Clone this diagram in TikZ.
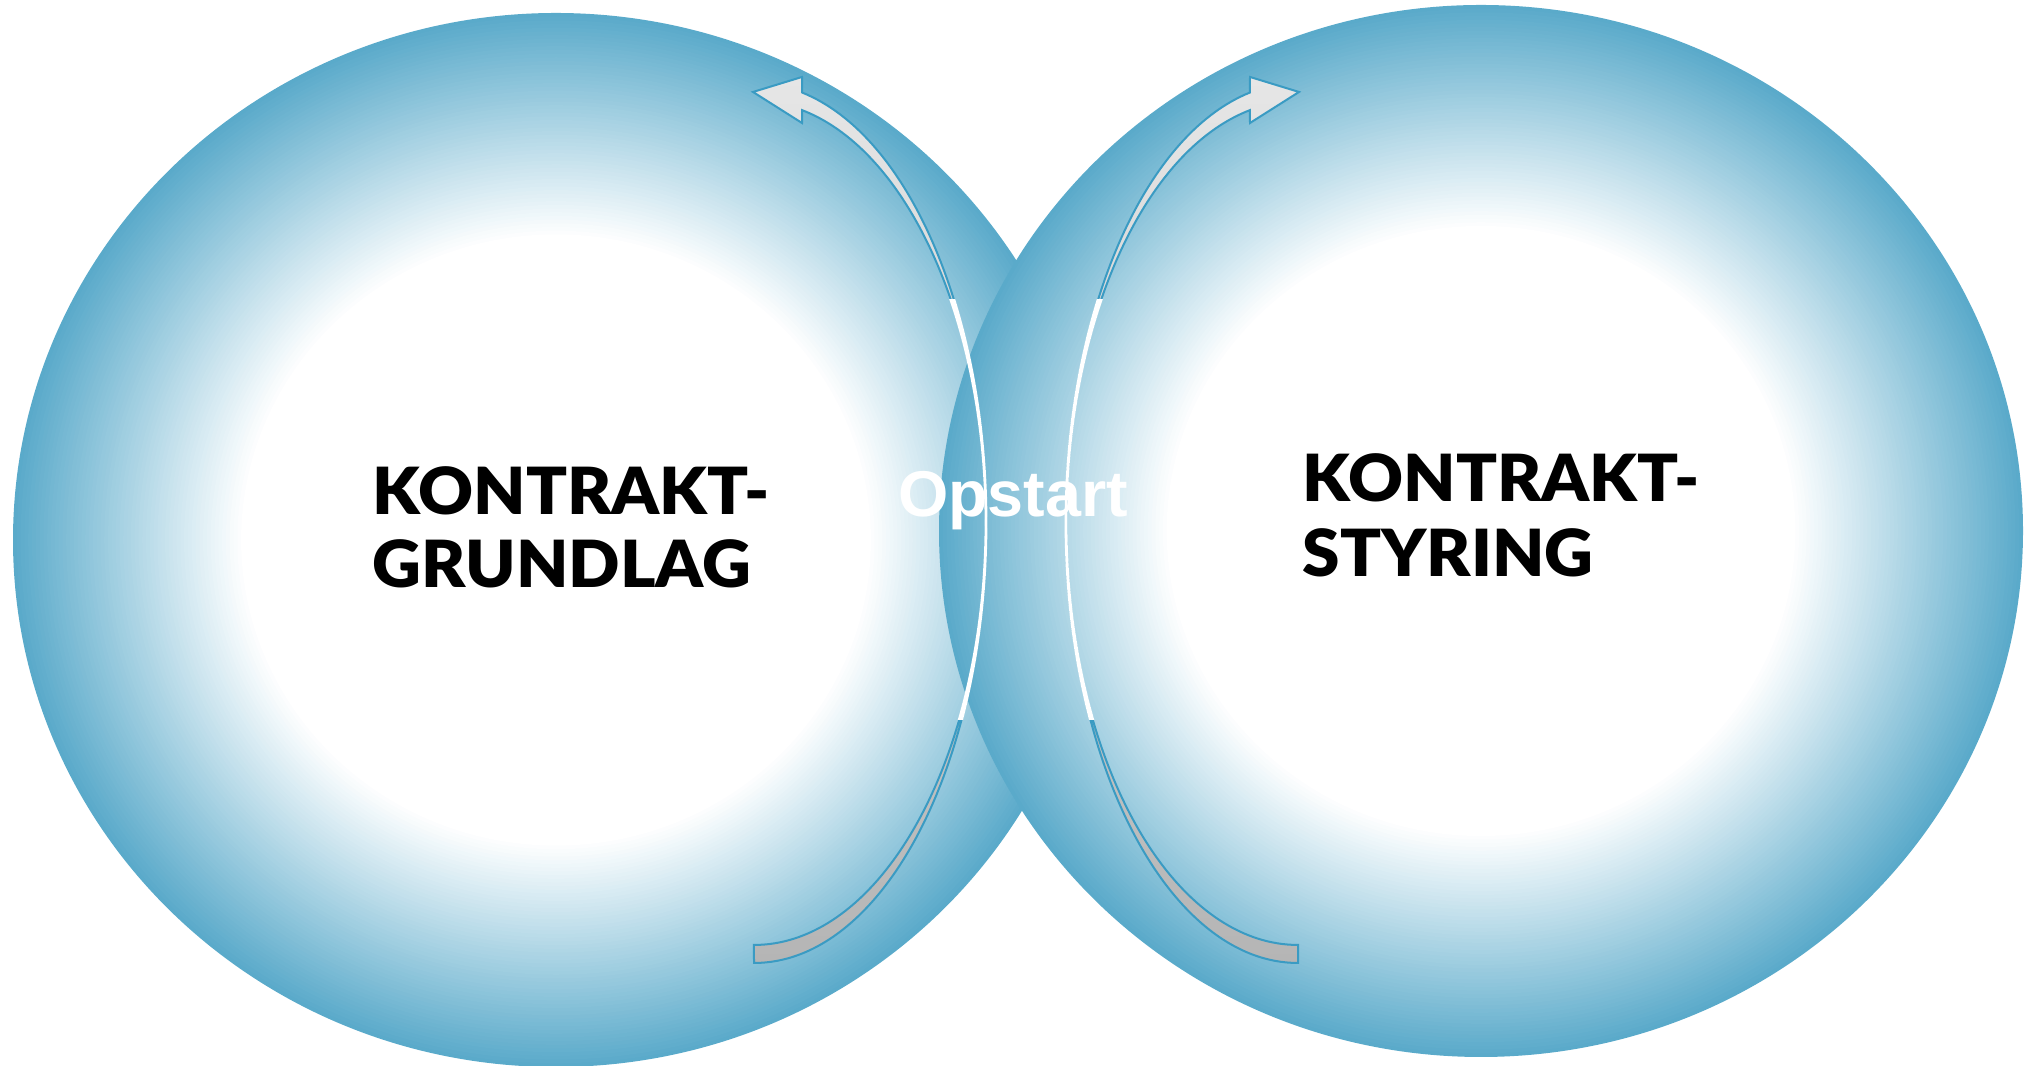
\documentclass[tikz,border=0pt]{standalone}
\usepackage{fontspec}
\setmainfont{Liberation Sans}
\newfontfamily\heavyfont{Lato Black}
\usetikzlibrary{shapes.geometric}

\definecolor{ringblue}{RGB}{90,170,202}
\definecolor{rimblue}{RGB}{58,155,195}
\definecolor{headgray}{RGB}{230,230,230}
\definecolor{tailgray}{RGB}{181,181,181}

\newcommand{\bendarrow}{(7.54,1.03) arc[start angle=-90,end angle=78,x radius=2.32,y radius=4.40]
  -- (8.02,9.89) -- (7.53,9.74) -- (8.02,9.43) -- (8.022,9.558)
  arc[start angle=78,end angle=-90,x radius=2.32,y radius=4.22] -- cycle}

\begin{document}
\begin{tikzpicture}[
  bigword/.style={font=\heavyfont\fontsize{18.5pt}{20pt}\selectfont,inner sep=0pt,anchor=base west},
  midword/.style={font=\bfseries\fontsize{18.4pt}{20pt}\selectfont,text=white,inner sep=0pt,anchor=base}
]
\useasboundingbox (0,0) rectangle (20.26,10.66);

\coordinate (grund) at (5.56,5.26);
\coordinate (styr) at (14.81,5.35);
% rings: white centre fading out to blue
\foreach \ctr/\rx/\ry in {grund/5.43/5.27,styr/5.42/5.26}{
\foreach \i in {0,...,60}{
  \pgfmathsetmacro\f{1-0.42*\i/60}
  \pgfmathsetmacro\c{100-100*\i/60}
  \fill[ringblue!\c!white] (\ctr) ellipse[x radius={\rx*\f},y radius={\ry*\f}];
}
}

% the two bent arrows, the right one mirrored
\foreach \flip/\move in {1/0,-1/20.52}{
\begin{scope}[xshift=\move cm,xscale=\flip]
\shade[top color=headgray,bottom color=tailgray,draw=rimblue,line width=0.02cm,line join=miter] \bendarrow;
\begin{scope}
\clip (6,3.46) rectangle (10,7.66);
\draw[white,line width=0.028cm] \bendarrow;
\end{scope}
\end{scope}
}

\node[midword] (opstart) at (10.13,5.49) {Opstart};

\node[bigword] (grund1) at (3.72,5.51) {\scalebox{1.04}[1]{KONTRAKT-}};
\node[bigword] (grund2) at ([shift={+(0,-0.73)}]grund1.base west) {\scalebox{1.04}[1]{GRUNDLAG}};

\node[bigword] (styr1) at (13.02,5.64) {\scalebox{1.04}[1]{KONTRAKT-}};
\node[bigword] (styr2) at ([shift={+(0,-0.75)}]styr1.base west) {\scalebox{1.04}[1]{STYRING}};
\end{tikzpicture}
\end{document}
